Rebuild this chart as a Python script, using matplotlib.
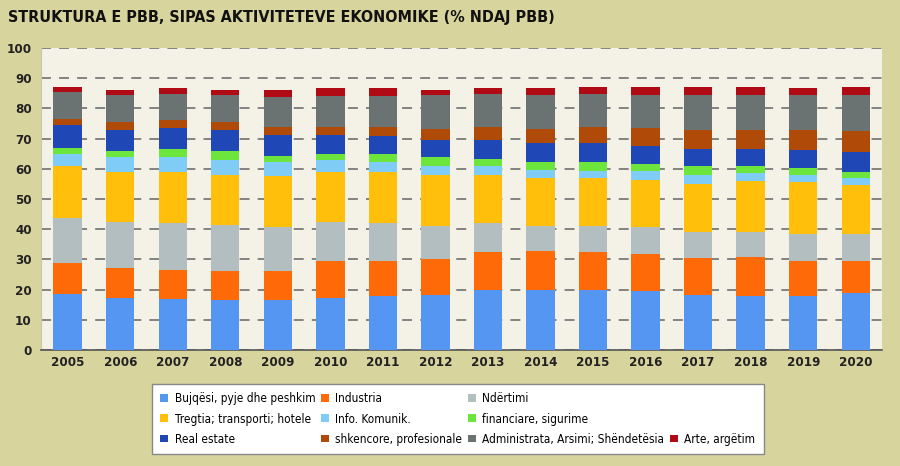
import numpy as np
import matplotlib.pyplot as plt
from matplotlib.patches import Patch

years = [str(y) for y in range(2005, 2021)]

bujqesi = [18.6, 17.3, 16.8, 16.4, 16.4, 17.3, 17.8, 18.3, 19.7, 19.7, 19.7, 19.4, 18.3, 17.9, 17.9, 19.0]
industria = [10.1, 9.7, 9.7, 9.6, 9.6, 12.3, 11.8, 11.9, 12.6, 13.1, 12.6, 12.4, 12.0, 12.8, 11.7, 10.6]
ndertimi = [15.1, 15.5, 15.5, 15.4, 14.6, 12.9, 12.6, 11.0, 9.7, 8.4, 8.9, 8.9, 8.7, 8.5, 8.9, 8.9]
tregtia = [17.0, 16.6, 17.1, 16.6, 16.9, 16.6, 16.9, 16.7, 15.9, 15.9, 15.9, 15.7, 15.9, 16.7, 17.0, 16.0]
info = [4.1, 4.7, 4.7, 4.8, 4.8, 3.7, 3.2, 3.1, 2.9, 2.6, 2.3, 3.0, 3.0, 2.7, 2.4, 2.5]
financiare = [2.1, 2.2, 2.6, 3.1, 2.0, 2.2, 2.7, 2.8, 2.5, 2.4, 2.7, 2.3, 2.9, 2.2, 2.2, 2.1]
real_estate = [7.4, 6.8, 7.0, 6.8, 7.0, 6.3, 5.7, 5.8, 6.1, 6.6, 6.6, 5.9, 5.7, 5.7, 6.0, 6.3]
shkencore = [2.2, 2.7, 2.6, 2.8, 2.5, 2.5, 3.1, 3.7, 4.4, 4.6, 5.1, 5.8, 6.4, 6.4, 6.8, 7.0]
administrata = [8.8, 8.8, 8.9, 8.8, 10.1, 10.2, 10.2, 11.1, 11.1, 11.1, 11.1, 11.0, 11.5, 11.5, 11.5, 12.0]
arte = [1.7, 1.8, 1.7, 1.8, 2.2, 2.6, 2.6, 1.7, 1.7, 2.2, 2.2, 2.7, 2.7, 2.7, 2.2, 2.7]

labels = ["Bujqësi, pyje dhe peshkim", "Industria", "Ndërtimi",
          "Tregtia; transporti; hotele", "Info. Komunik.", "financiare, sigurime",
          "Real estate", "shkencore, profesionale", "Administrata, Arsimi; Shëndetësia",
          "Arte, argëtim"]
series = [bujqesi, industria, ndertimi, tregtia, info, financiare,
          real_estate, shkencore, administrata, arte]
colors = ["#5596f2", "#ff6a08", "#b2bec0", "#ffbf0a", "#7fcdf6", "#6ce63c",
          "#1f47b5", "#b04a08", "#6a7272", "#b00a14"]

plt.rcParams['font.family'] = ["DejaVu Sans"]
plt.rcParams['font.stretch'] = "condensed"

fig = plt.figure(figsize=(9, 4.66), dpi=100, facecolor="#d7d49e")
ax = fig.add_axes([0.046, 0.249, 0.934, 0.648])
ax.set_facecolor("#f4f2e6")

x = np.arange(len(years))
bottom = np.zeros(len(years))
handles = []
for vals, lab, col in zip(series, labels, colors):
    ax.bar(x, vals, bottom=bottom, width=0.54, color=col, label=lab, zorder=3)
    bottom += np.array(vals)
    handles.append(Patch(facecolor=col, label=lab))

ax.set_xlim(-0.5, 15.5)
ax.set_ylim(0, 100)
ax.set_yticks(range(0, 101, 10))
ax.set_xticks(x)
ax.set_xticklabels(years, fontsize=9.5, fontweight="bold", color="#222222")
ax.tick_params(axis="y", labelsize=9.5, length=0, pad=7, labelcolor="#222222")
ax.tick_params(axis="x", length=0, pad=4)
for t in ax.get_yticklabels():
    t.set_fontweight("bold")
ax.yaxis.grid(True, linestyle=(0, (5.5, 4.5)), color="#7a7a7a", linewidth=1.3, zorder=0)
ax.set_axisbelow(True)
for s in ["top", "right"]:
    ax.spines[s].set_visible(False)
ax.spines["left"].set_color("#c8c6b0")
ax.spines["bottom"].set_color("#555555")
ax.spines["bottom"].set_linewidth(1.2)

fig.text(0.009, 0.963, "STRUKTURA E PBB, SIPAS AKTIVITETEVE EKONOMIKE (% NDAJ PBB)",
         fontsize=11.5, fontweight="heavy", color="#111111", va="center", ha="left")

blank = Patch(facecolor="none", edgecolor="none", label=" ")
order = [handles[0], handles[3], handles[6],
         handles[1], handles[4], handles[7],
         handles[2], handles[5], handles[8],
         blank, blank, handles[9]]
leg = fig.legend(handles=order, labels=[h.get_label() for h in order],
                 ncol=4, loc="lower left", bbox_to_anchor=(0.169, 0.026),
                 fontsize=8.5, frameon=True, fancybox=False, framealpha=1,
                 handlelength=0.65, handleheight=0.65, handletextpad=0.55,
                 columnspacing=0.5, labelspacing=0.6, borderpad=0.7,
                 borderaxespad=0)
leg.get_frame().set_edgecolor("#888888")
leg.get_frame().set_linewidth(1.0)
leg.get_frame().set_facecolor("white")

fig.savefig("out.png", dpi=100, facecolor=fig.get_facecolor())
